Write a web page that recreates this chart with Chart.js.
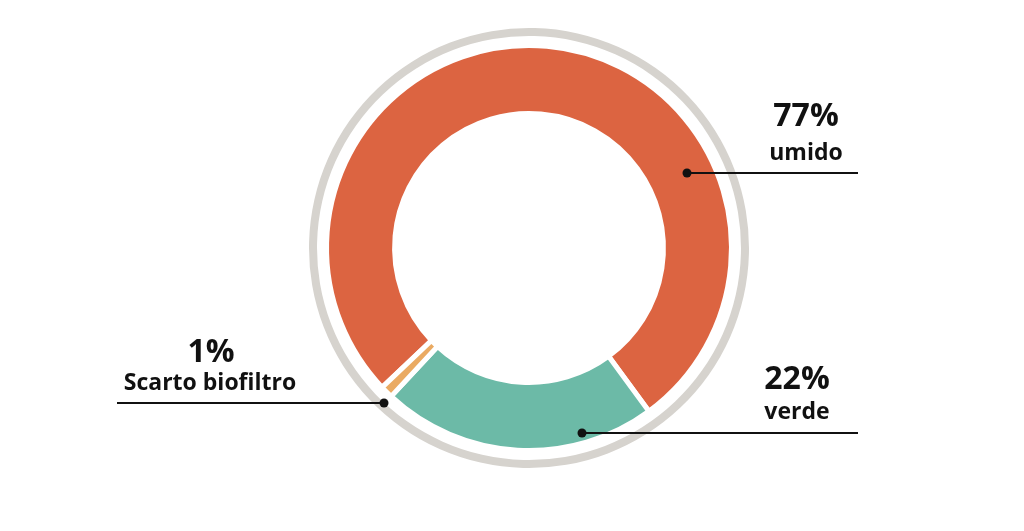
<!DOCTYPE html>
<html>
<head>
<meta charset="utf-8">
<script src="https://cdn.jsdelivr.net/npm/chart.js@4.4.1/dist/chart.umd.min.js"></script>
<style>
  html, body { margin: 0; padding: 0; background: #ffffff; }
  #wrap { width: 1024px; height: 531px; position: relative; }
</style>
</head>
<body>
<div id="wrap"><canvas id="c" width="1024" height="531"></canvas></div>
<script>
// ---- data ----
const categories = ['umido', 'verde', 'Scarto biofiltro'];
const values = [77, 22, 1];
const percentLabels = ['77%', '22%', '1%'];
const sliceColors = ['#DC6441', '#6CBAA7', '#EAAA62'];

// ---- callout layout (annotation positions, pixels) ----
const callouts = [
  { dot: [687, 173], line: [687, 858], pctPos: [806, 126], namePos: [806, 160] },
  { dot: [582, 433], line: [582, 858], pctPos: [797, 389], namePos: [797, 419] },
  { dot: [384, 403], line: [117, 384], pctPos: [211, 362], namePos: [210, 390] }
];

const calloutPlugin = {
  id: 'callouts',
  afterDraw(chart) {
    const ctx = chart.ctx;
    ctx.save();
    callouts.forEach((c, i) => {
      ctx.strokeStyle = '#111111';
      ctx.lineWidth = 2;
      ctx.beginPath();
      ctx.moveTo(c.line[0], c.dot[1]);
      ctx.lineTo(c.line[1], c.dot[1]);
      ctx.stroke();
      ctx.fillStyle = '#111111';
      ctx.beginPath();
      ctx.arc(c.dot[0], c.dot[1], 4.5, 0, Math.PI * 2);
      ctx.fill();
      ctx.textAlign = 'center';
      ctx.textBaseline = 'alphabetic';
      ctx.font = '700 32px "Open Sans", "DejaVu Sans", sans-serif';
      ctx.fillText(percentLabels[i], c.pctPos[0], c.pctPos[1]);
      ctx.font = '700 23px "Open Sans", "DejaVu Sans", sans-serif';
      ctx.fillText(categories[i], c.namePos[0], c.namePos[1]);
    });
    ctx.restore();
  }
};

const bgPlugin = {
  id: 'bg',
  beforeDraw(chart) {
    const ctx = chart.ctx;
    ctx.save();
    ctx.fillStyle = '#ffffff';
    ctx.fillRect(0, 0, chart.width, chart.height);
    ctx.restore();
  }
};

new Chart(document.getElementById('c'), {
  type: 'doughnut',
  data: {
    labels: categories,
    datasets: [
      { data: [1], backgroundColor: ['#D6D3CE'], borderWidth: 0, hoverBorderWidth: 0, weight: 8 },
      { data: [1], backgroundColor: ['rgba(0,0,0,0)'], borderWidth: 0, hoverBorderWidth: 0, weight: 9.5 },
      { data: values, backgroundColor: sliceColors, borderColor: '#ffffff', borderWidth: 5, hoverBorderWidth: 5, weight: 68 }
    ]
  },
  options: {
    responsive: false,
    animation: false,
    events: [],
    radius: 220,
    cutout: '61.1%',
    rotation: 226.5,
    layout: { padding: { left: 34, right: 0, top: 0, bottom: 35 } },
    plugins: { legend: { display: false }, tooltip: { enabled: false } }
  },
  plugins: [bgPlugin, calloutPlugin]
});
</script>
</body>
</html>
